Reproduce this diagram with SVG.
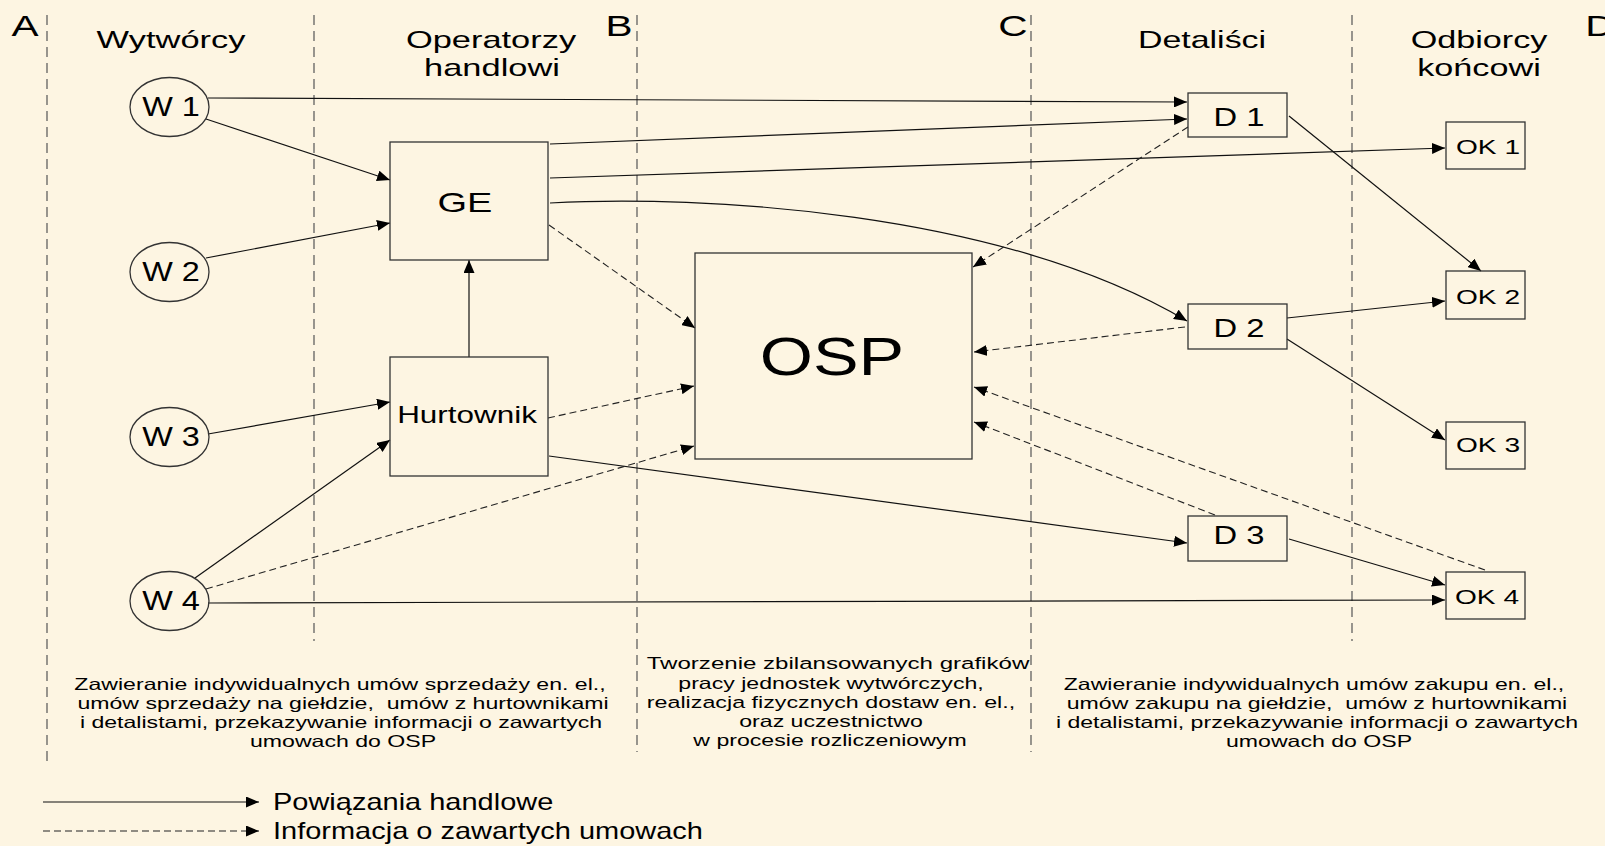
<svg xmlns="http://www.w3.org/2000/svg" width="1605" height="846" viewBox="0 0 1605 846">
<style>
text{font-family:"Liberation Sans",Arial,sans-serif;fill:#000;text-anchor:middle}
.hd{font-size:24.6px}
.let{font-size:29px}
.wl{font-size:27px}
.dl{font-size:25px}
.okl{font-size:20.5px}
.bt{font-size:16.5px}
.lg{font-size:23px;text-anchor:start}
.div{stroke:#555;stroke-width:1.2;stroke-dasharray:10 6;fill:none}
.node{fill:none;stroke:#333;stroke-width:1.3}
.s{stroke:#111;stroke-width:1.2;fill:none;marker-end:url(#ah)}
.d{stroke:#222;stroke-width:1.1;fill:none;stroke-dasharray:7 4;marker-end:url(#ah)}
</style>
<defs>
<marker id="ah" markerUnits="userSpaceOnUse" markerWidth="13" markerHeight="11" refX="13" refY="5.5" orient="auto">
<path d="M0,0 L13,5.5 L0,11 z" fill="#000"/>
</marker>
</defs>
<rect width="1605" height="846" fill="#FDF5E2"/>

<g id="dividers">
<line class="div" x1="47" y1="15" x2="47" y2="763"/>
<line class="div" x1="314" y1="15" x2="314" y2="641"/>
<line class="div" x1="637" y1="15" x2="637" y2="752"/>
<line class="div" x1="1031" y1="15" x2="1031" y2="752"/>
<line class="div" x1="1352" y1="15" x2="1352" y2="641"/>
</g>

<g id="headers">
<text class="let" transform="translate(25 36) scale(1.4 1)">A</text>
<text class="let" transform="translate(619 36) scale(1.4 1)">B</text>
<text class="let" transform="translate(1013 36) scale(1.4 1)">C</text>
<text class="let" transform="translate(1600 36) scale(1.4 1)">D</text>
<text class="hd" transform="translate(171 48) scale(1.4 1)">Wytwórcy</text>
<text class="hd" transform="translate(491 48) scale(1.4 1)">Operatorzy</text>
<text class="hd" transform="translate(492 76) scale(1.4 1)">handlowi</text>
<text class="hd" transform="translate(1202 48) scale(1.38 1)">Detaliści</text>
<text class="hd" transform="translate(1479 48) scale(1.39 1)">Odbiorcy</text>
<text class="hd" transform="translate(1479 76) scale(1.39 1)">końcowi</text>
</g>

<g id="connectors">
<line class="s" x1="208" y1="98" x2="1187" y2="102"/>
<line class="s" x1="206" y1="119" x2="390" y2="180"/>
<line class="s" x1="206" y1="258" x2="390" y2="223"/>
<line class="s" x1="550" y1="144" x2="1187" y2="119"/>
<line class="s" x1="550" y1="178" x2="1445" y2="148"/>
<path class="s" d="M550,203 C700,195 1000,210 1187,321"/>
<line class="s" x1="469" y1="357" x2="469" y2="260"/>
<line class="s" x1="208" y1="434" x2="390" y2="402"/>
<line class="s" x1="195" y1="578" x2="390" y2="440"/>
<line class="s" x1="549" y1="456" x2="1187" y2="543"/>
<line class="s" x1="208" y1="603" x2="1445" y2="600"/>
<line class="s" x1="1289" y1="116" x2="1481" y2="271"/>
<line class="s" x1="1287" y1="318" x2="1445" y2="301"/>
<line class="s" x1="1287" y1="339" x2="1445" y2="440"/>
<line class="s" x1="1289" y1="539" x2="1445" y2="585"/>
<line class="d" x1="549" y1="225" x2="695" y2="328"/>
<line class="d" x1="548" y1="418" x2="694" y2="386"/>
<line class="d" x1="206" y1="589" x2="694" y2="446"/>
<line class="d" x1="1188" y1="127" x2="973" y2="267"/>
<line class="d" x1="1185" y1="327" x2="974" y2="352"/>
<line class="d" x1="1215" y1="515" x2="974" y2="422"/>
<line class="d" x1="1485" y1="570" x2="974" y2="387"/>
</g>

<g id="W1"><ellipse class="node" cx="169.5" cy="107" rx="39.5" ry="29.5"/><text class="wl" transform="translate(171 116) scale(1.2 1)">W 1</text></g>
<g id="W2"><ellipse class="node" cx="169.5" cy="272" rx="39.5" ry="29.5"/><text class="wl" transform="translate(171 281) scale(1.2 1)">W 2</text></g>
<g id="W3"><ellipse class="node" cx="169.5" cy="437" rx="39.5" ry="29.5"/><text class="wl" transform="translate(171 446) scale(1.2 1)">W 3</text></g>
<g id="W4"><ellipse class="node" cx="169.5" cy="601" rx="39.5" ry="29.5"/><text class="wl" transform="translate(171 610) scale(1.2 1)">W 4</text></g>

<g id="GE"><rect class="node" x="390" y="142" width="158" height="118"/><text style="font-size:27.5px" transform="translate(465 212) scale(1.38 1)">GE</text></g>
<g id="Hurtownik"><rect class="node" x="390" y="357" width="158" height="119"/><text style="font-size:24px" transform="translate(467 423) scale(1.31 1)">Hurtownik</text></g>
<g id="OSP"><rect class="node" x="695" y="253" width="277" height="206"/><text style="font-size:53px" transform="translate(832 375) scale(1.29 1)">OSP</text></g>

<g id="D1"><rect class="node" x="1188" y="93" width="99" height="44"/><text class="dl" transform="translate(1239 126) scale(1.31 1)">D 1</text></g>
<g id="D2"><rect class="node" x="1188" y="304" width="99" height="45"/><text class="dl" transform="translate(1239 337) scale(1.31 1)">D 2</text></g>
<g id="D3"><rect class="node" x="1188" y="516" width="99" height="45"/><text class="dl" transform="translate(1239 544) scale(1.31 1)">D 3</text></g>

<g id="OK1"><rect class="node" x="1446" y="122" width="79" height="47"/><text class="okl" transform="translate(1488 154) scale(1.37 1)">OK 1</text></g>
<g id="OK2"><rect class="node" x="1446" y="271" width="79" height="48"/><text class="okl" transform="translate(1488 304) scale(1.37 1)">OK 2</text></g>
<g id="OK3"><rect class="node" x="1446" y="422" width="79" height="47"/><text class="okl" transform="translate(1488 452) scale(1.37 1)">OK 3</text></g>
<g id="OK4"><rect class="node" x="1446" y="572" width="79" height="47"/><text class="okl" transform="translate(1487 604) scale(1.37 1)">OK 4</text></g>

<g id="notes">
<text class="bt" transform="translate(340 690) scale(1.4 1)">Zawieranie indywidualnych umów sprzedaży en. el.,</text>
<text class="bt" xml:space="preserve" transform="translate(343 709) scale(1.4 1)">umów sprzedaży na giełdzie,  umów z hurtownikami</text>
<text class="bt" transform="translate(341 728) scale(1.4 1)">i detalistami, przekazywanie informacji o zawartych</text>
<text class="bt" transform="translate(343 747) scale(1.4 1)">umowach do OSP</text>
<text class="bt" transform="translate(838 669) scale(1.46 1)">Tworzenie zbilansowanych grafików</text>
<text class="bt" transform="translate(831 689) scale(1.4 1)">pracy jednostek wytwórczych,</text>
<text class="bt" transform="translate(831 708) scale(1.41 1)">realizacja fizycznych dostaw en. el.,</text>
<text class="bt" transform="translate(831 727) scale(1.4 1)">oraz uczestnictwo</text>
<text class="bt" transform="translate(830 746) scale(1.4 1)">w procesie rozliczeniowym</text>
<text class="bt" transform="translate(1314 690) scale(1.4 1)">Zawieranie indywidualnych umów zakupu en. el.,</text>
<text class="bt" xml:space="preserve" transform="translate(1317 709) scale(1.4 1)">umów zakupu na giełdzie,  umów z hurtownikami</text>
<text class="bt" transform="translate(1317 728) scale(1.4 1)">i detalistami, przekazywanie informacji o zawartych</text>
<text class="bt" transform="translate(1319 747) scale(1.4 1)">umowach do OSP</text>
</g>

<g id="legend">
<line class="s" x1="43" y1="802" x2="259" y2="802"/>
<line class="d" x1="43" y1="831" x2="259" y2="831"/>
<text class="lg" transform="translate(273 810) scale(1.26 1)">Powiązania handlowe</text>
<text class="lg" transform="translate(273 839) scale(1.26 1)">Informacja o zawartych umowach</text>
</g>
</svg>
